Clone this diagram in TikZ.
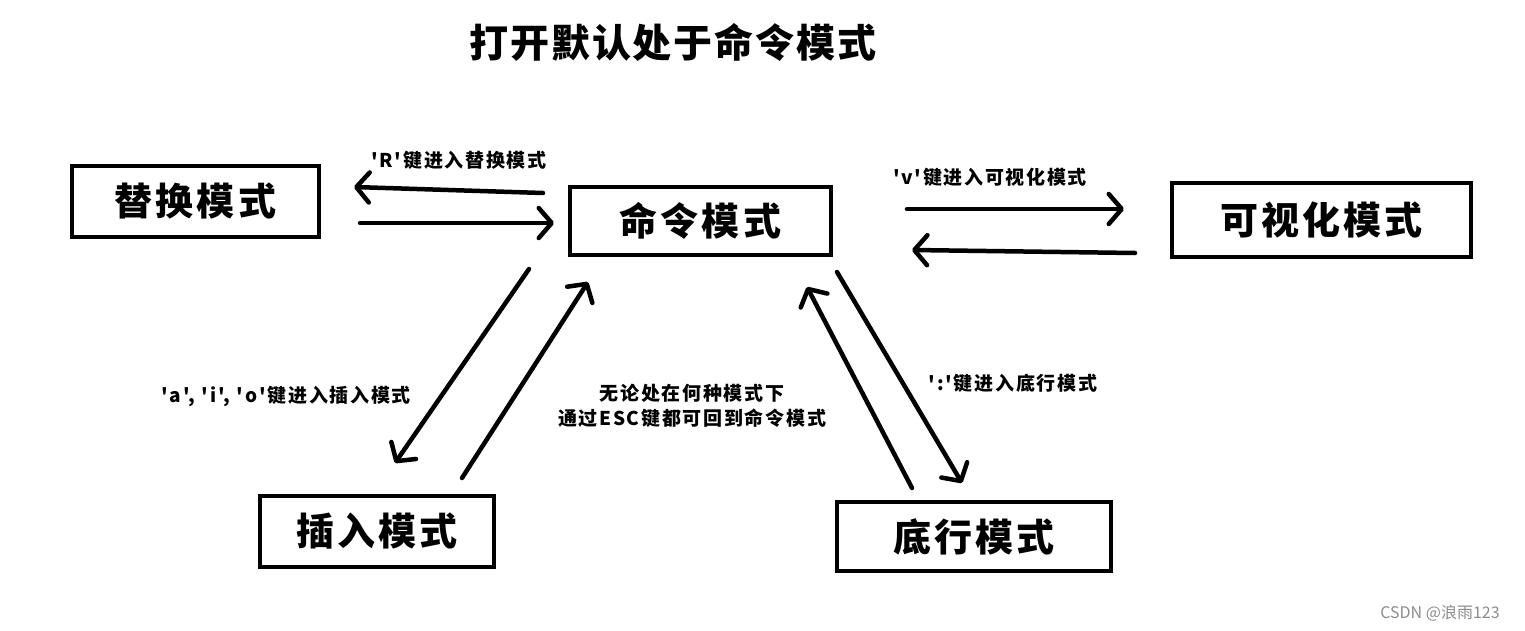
\documentclass[tikz,border=0pt]{standalone}
\usepackage{fontspec}
\newfontfamily\cjk{Noto Sans CJK SC}
\newfontfamily\cjkbox{Noto Sans CJK SC}[LetterSpace=8]
\newfontfamily\cjktitle{Noto Sans CJK SC}[LetterSpace=5]
\newfontfamily\cjklbl{Noto Sans CJK SC}[LetterSpace=9]
\usetikzlibrary{arrows.meta,calc}
\tikzset{
  mbox/.style={draw=black,line width=4pt,inner sep=0pt,font=\cjkbox\bfseries\fontsize{38}{40}\selectfont},
  arr/.style={line width=4.5pt,line cap=round,-{Straight Barb[length=13pt,width=30pt,line cap=round,line join=round]}},
  lbl/.style={font=\cjklbl\bfseries\fontsize{19}{25}\selectfont,align=center,inner sep=0pt},
}
\begin{document}
\begin{tikzpicture}[x=1pt,y=-1pt]
\useasboundingbox[fill=white] (0,0) rectangle (1525,631);
\node[font=\cjktitle\bfseries\fontsize{39}{40}\selectfont,inner sep=0pt] (title) at (673,42) {打开默认处于命令模式};
\node[mbox,minimum width=247pt,minimum height=71pt] (rep) at (195.5,201.5) {替换模式};
\node[mbox,minimum width=261pt,minimum height=68pt] (cmd) at (700.5,221) {命令模式};
\node[mbox,minimum width=299pt,minimum height=74pt] (vis) at (1321.5,220) {可视化模式};
\node[mbox,minimum width=234pt,minimum height=71pt] (ins) at (377,531.5) {插入模式};
\node[mbox,minimum width=274pt,minimum height=69pt] (bot) at (974,536.5) {底行模式};
% labels
\node[lbl] (lr) at (459,160) {'R'键进入替换模式};
\node[lbl] (lv) at (990,177) {'v'键进入可视化模式};
\node[lbl] (la) at (285,396) {\kern2pt'\kern2pt a\kern2pt',\,\kern3pt'\kern2pt i\kern2pt',\,\kern3pt'\kern2pt o\kern2pt'键进入插入模式};
\node[lbl] (le) at (692,406) {无论处在何种模式下\\通过ESC键都可回到命令模式};
\node[lbl] (lc) at (1013,383) {':'键进入底行模式};
\node[font=\cjk\fontsize{16}{18}\selectfont,text=black!45,inner sep=0pt] (wm) at (1440,613) {CSDN @浪雨123};
% arrows
\draw[arr] ($(cmd.west)+(-25,-28)$) -- ($(rep.east)+(33,-14.5)$);
\draw[arr] ($(rep.east)+(39,21.5)$) -- ($(cmd.west)+(-14,2)$);
\draw[arr] ($(cmd.east)+(74,-12)$) -- ($(vis.west)+(-46,-11)$);
\draw[arr] ($(vis.west)+(-35,33)$) -- ($(cmd.east)+(79,29)$);
\draw[arr] ($(cmd.south west)+(-39,12)$) -- ($(ins.north)+(18,-31)$);
\draw[arr] ($(ins.north)+(85,-16)$) -- ($(cmd.south west)+(20,25)$);
\draw[arr] ($(bot.north)+(-62,-12)$) -- ($(cmd.south east)+(-26,30)$);
\draw[arr] ($(cmd.south east)+(4,15)$) -- ($(bot.north)+(-12,-17)$);
\end{tikzpicture}
\end{document}
